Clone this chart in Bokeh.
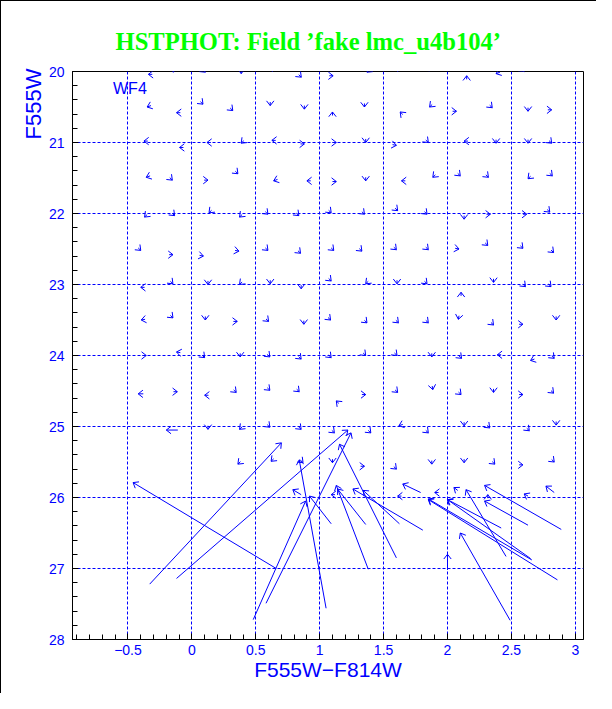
import numpy as np
from bokeh.plotting import figure
from bokeh.models import Range1d, FixedTicker, Title
from bokeh.core.properties import value
from bokeh.embed import file_html
from bokeh.resources import INLINE

TITLE = "HSTPHOT: Field \u2019fake lmc_u4b104\u2019"
X_LABEL = "F555W\u2212F814W"
Y_LABEL = "F555W"
CHIP = "WF4"

X_TICKS = [-0.5, 0, 0.5, 1, 1.5, 2, 2.5, 3]
X_TICK_LABELS = ["\u22120.5", "0", "0.5", "1", "1.5", "2", "2.5", "3"]
Y_TICKS = [20, 21, 22, 23, 24, 25, 26, 27, 28]
Y_GRID = [20, 21, 22, 23, 24, 25, 26, 27]

# small vectors (tail -> head), row by row (F555W = 20.0 ... 26.0)
small_x0 = [
    -0.31, -0.145, 0.085, 0.386, 0.63, 0.836, 1.075, 1.39, 1.61, 1.84, 2.15, 2.41, 2.58,
    -0.32, -0.09, 0.067, 0.30, 0.613, 0.88, 1.10, 1.35, 1.65, 1.88, 2.04, 2.33, 2.63, 2.785,
    -0.345, -0.066, 0.148, 0.406, 0.656, 0.85, 1.10, 1.36, 1.57, 1.83, 2.16, 2.38, 2.63, 2.795,
    -0.327, -0.173, 0.096, 0.34, 0.67, 0.93, 1.10, 1.36, 1.67, 1.905, 2.08, 2.30, 2.65, 2.80,
    -0.35, -0.155, 0.154, 0.393, 0.575, 0.817, 1.07, 1.33, 1.59, 1.82, 2.13, 2.305, 2.59, 2.78,
    -0.42, -0.178, 0.06, 0.338, 0.575, 0.83, 1.09, 1.31, 1.58, 1.83, 2.06, 2.295, 2.57, 2.81,
    -0.37, -0.168, 0.126, 0.393, 0.613, 0.855, 1.07, 1.38, 1.605, 1.82, 2.106, 2.36, 2.59, 2.79,
    -0.366, -0.168, 0.105, 0.325, 0.58, 0.876, 1.065, 1.35, 1.596, 1.83, 2.09, 2.34, 2.56, 2.85,
    -0.387, -0.09, 0.08, 0.378, 0.59, 0.835, 1.07, 1.34, 1.585, 1.877, 2.09, 2.42, 2.68, 2.815,
    -0.38, -0.144, 0.13, 0.327, 0.59, 0.82, 1.15, 1.33, 1.59, 1.88, 2.086, 2.36, 2.56, 2.81,
    -0.11, 0.126, 0.393, 0.59, 0.835, 1.095, 1.38, 1.65, 1.83, 2.13, 2.31, 2.62, 2.85,
    0.38, 0.64, 0.85, 1.10, 1.32, 1.58, 1.877, 2.13, 2.35, 2.56, 2.815,
    0.855, 1.12, 1.64, 1.79, 1.93, 2.08, 2.315, 2.63, 2.835,
]
small_y0 = [
    20.04, 19.97, 19.975, 19.98, 19.96, 20.045, 20.06, 19.975, 19.96, 19.955, 20.11, 20.01, 19.965,
    20.48, 20.58, 20.425, 20.515, 20.43, 20.48, 20.62, 20.45, 20.605, 20.465, 20.56, 20.475, 20.51, 20.54,
    20.98, 21.07, 21.0, 20.975, 20.97, 21.02, 21.0, 20.95, 21.03, 20.965, 20.98, 20.96, 20.96, 20.975,
    21.47, 21.495, 21.53, 21.405, 21.52, 21.54, 21.55, 21.49, 21.54, 21.455, 21.435, 21.455, 21.475, 21.435,
    22.015, 21.995, 21.955, 22.015, 21.975, 21.995, 21.955, 21.975, 21.925, 21.975, 22.03, 22.01, 22.01, 21.945,
    22.485, 22.58, 22.59, 22.52, 22.485, 22.525, 22.485, 22.495, 22.475, 22.475, 22.49, 22.415, 22.455, 22.515,
    23.04, 22.955, 22.95, 22.965, 22.94, 23.01, 22.915, 22.955, 22.94, 22.955, 23.16, 22.92, 22.995, 22.995,
    23.49, 23.435, 23.45, 23.52, 23.485, 23.51, 23.465, 23.505, 23.505, 23.505, 23.44, 23.535, 23.56, 23.45,
    24.0, 23.96, 23.995, 23.97, 23.985, 24.015, 23.995, 23.965, 23.965, 23.97, 24.005, 23.99, 24.05, 24.005,
    24.54, 24.51, 24.56, 24.485, 24.455, 24.475, 24.675, 24.55, 24.485, 24.43, 24.515, 24.47, 24.55, 24.495,
    25.05, 24.99, 25.005, 24.975, 25.005, 25.055, 25.055, 24.97, 25.055, 24.94, 24.985, 25.025, 24.93,
    25.495, 25.455, 25.475, 25.46, 25.56, 25.565, 25.48, 25.46, 25.495, 25.54, 25.465,
    25.96, 25.96, 25.98, 25.93, 25.93, 25.90, 26.01, 25.98, 25.93,
]
small_x1 = [
    -0.34, -0.145, 0.105, 0.386, 0.63, 0.856, 1.105, 1.37, 1.61, 1.86, 2.15, 2.38, 2.60,
    -0.35, -0.12, 0.087, 0.32, 0.613, 0.88, 1.10, 1.35, 1.63, 1.86, 2.07, 2.35, 2.63, 2.815,
    -0.375, -0.096, 0.118, 0.386, 0.626, 0.88, 1.13, 1.36, 1.60, 1.85, 2.13, 2.38, 2.63, 2.815,
    -0.357, -0.153, 0.126, 0.36, 0.64, 0.90, 1.13, 1.36, 1.64, 1.885, 2.10, 2.32, 2.63, 2.82,
    -0.37, -0.135, 0.134, 0.373, 0.595, 0.837, 1.09, 1.35, 1.61, 1.84, 2.13, 2.335, 2.62, 2.80,
    -0.40, -0.148, 0.09, 0.368, 0.595, 0.85, 1.11, 1.33, 1.60, 1.85, 2.09, 2.315, 2.59, 2.83,
    -0.40, -0.148, 0.126, 0.373, 0.613, 0.855, 1.09, 1.36, 1.605, 1.84, 2.106, 2.36, 2.61, 2.81,
    -0.396, -0.148, 0.105, 0.355, 0.60, 0.876, 1.085, 1.37, 1.616, 1.85, 2.085, 2.36, 2.59, 2.85,
    -0.357, -0.12, 0.10, 0.378, 0.61, 0.855, 1.09, 1.36, 1.605, 1.877, 2.11, 2.39, 2.65, 2.835,
    -0.42, -0.114, 0.10, 0.347, 0.61, 0.84, 1.13, 1.36, 1.61, 1.885, 2.106, 2.36, 2.59, 2.83,
    -0.20, 0.126, 0.373, 0.61, 0.855, 1.115, 1.40, 1.62, 1.85, 2.13, 2.33, 2.64, 2.85,
    0.36, 0.62, 0.87, 1.10, 1.35, 1.60, 1.877, 2.13, 2.37, 2.59, 2.835,
    0.79, 1.09, 1.61, 1.65, 1.90, 2.05, 2.315, 2.60, 2.77,
]
small_y1 = [
    20.04, 20.01, 20.01, 20.03, 20.0, 20.08, 20.06, 20.01, 20.0, 19.99, 20.06, 20.03, 20.0,
    20.50, 20.58, 20.46, 20.55, 20.48, 20.53, 20.57, 20.50, 20.57, 20.50, 20.56, 20.51, 20.56, 20.54,
    20.98, 21.07, 21.0, 21.01, 20.97, 21.02, 21.0, 21.0, 21.04, 21.0, 20.98, 21.01, 21.01, 21.01,
    21.49, 21.53, 21.53, 21.44, 21.54, 21.54, 21.55, 21.54, 21.54, 21.49, 21.47, 21.49, 21.51, 21.47,
    22.05, 22.03, 21.99, 22.05, 22.01, 22.03, 21.99, 22.01, 21.96, 22.01, 22.08, 22.01, 22.01, 21.98,
    22.52, 22.58, 22.60, 22.53, 22.52, 22.56, 22.52, 22.53, 22.51, 22.51, 22.50, 22.45, 22.49, 22.55,
    23.04, 22.99, 23.0, 23.0, 22.99, 23.06, 22.95, 22.99, 22.99, 22.99, 23.11, 22.97, 23.03, 23.03,
    23.50, 23.47, 23.50, 23.52, 23.52, 23.56, 23.50, 23.54, 23.54, 23.54, 23.49, 23.57, 23.56, 23.50,
    24.0, 23.95, 24.03, 24.02, 24.02, 24.05, 24.03, 24.0, 24.0, 24.02, 24.04, 23.99, 24.07, 24.04,
    24.54, 24.51, 24.56, 24.52, 24.49, 24.51, 24.64, 24.55, 24.52, 24.48, 24.55, 24.52, 24.55, 24.53,
    25.05, 25.04, 25.04, 25.01, 25.04, 25.09, 25.09, 24.99, 25.09, 24.99, 25.02, 25.06, 24.98,
    25.53, 25.49, 25.51, 25.51, 25.56, 25.60, 25.53, 25.51, 25.53, 25.54, 25.50,
    25.89, 25.96, 25.98, 25.81, 25.93, 25.86, 25.96, 25.95, 25.84,
]

# large vectors (faint input -> recovered)
big_x0 = [0.66, -0.33, -0.12, 0.48, 0.58, 1.05, 1.09, 1.60, 1.38, 1.36, 1.807, 1.624,
          2.458, 2.89, 2.63, 2.42, 2.65, 2.66, 2.86, 2.49, 2.0]
big_y0 = [27.00, 27.22, 27.14, 27.72, 27.49, 27.56, 26.37, 26.85, 27.01, 26.38, 26.46, 26.37,
          26.83, 26.45, 26.39, 26.43, 26.86, 26.88, 27.16, 27.73, 27.02]
big_x1 = [-0.46, 0.70, 1.22, 0.89, 1.245, 0.84, 0.92, 1.155, 1.13, 1.14, 1.26, 1.34,
          2.145, 2.29, 2.29, 2.0, 2.0, 1.85, 1.85, 2.10, 2.0]
big_y1 = [25.79, 25.23, 25.05, 26.05, 25.09, 25.47, 25.98, 25.25, 25.83, 25.88, 25.88, 25.90,
          25.89, 25.83, 26.05, 26.03, 26.03, 26.02, 26.03, 26.50, 26.80]

BLUE = "#0000ff"
W, H = 596, 693
BL, BR, BT, BB = 71, 14, 70, 55
X0, X1 = -0.934, 3.064
Y_TOP, Y_BOT = 20, 28

p = figure(width=W, height=H, x_range=Range1d(X0, X1), y_range=Range1d(Y_BOT, Y_TOP),
           output_backend="svg", toolbar_location=None,
           min_border_left=BL, min_border_right=BR, min_border_top=BT, min_border_bottom=BB)
p.styles = {"border-top": "1px solid black", "border-left": "1px solid black"}
p.background_fill_color = "white"
p.border_fill_color = "white"
p.outline_line_color = "black"
p.outline_line_width = 1

p.title.text = TITLE
p.title.align = "left"
p.title.offset = 43
p.title.standoff = 33
p.title.text_font = "Liberation Serif"
p.title.text_font_style = "bold"
p.title.text_font_size = "24.6px"
p.title.text_color = "#00ff00"

p.add_layout(Title(text=Y_LABEL, align="right", text_font="Liberation Sans",
                   text_font_style="normal", text_font_size="22px", text_color=BLUE,
                   standoff=0, offset=-3), "left")

x_minor = list(np.round(np.arange(-0.9, 3.001, 0.1), 1))
y_minor = list(np.round(np.arange(20, 28.001, 0.2), 1))

for ax in (p.xaxis[0], p.yaxis[0]):
    ax.axis_line_color = "black"
    ax.major_tick_line_color = "black"
    ax.minor_tick_line_color = "black"
    ax.major_tick_in = 6
    ax.major_tick_out = 0
    ax.minor_tick_in = 5
    ax.minor_tick_out = 0
    ax.major_label_text_color = BLUE
    ax.major_label_text_font = "Liberation Sans"
    ax.major_label_text_font_size = "14px"

p.xaxis.ticker = FixedTicker(ticks=X_TICKS, minor_ticks=x_minor)
p.xaxis.major_label_overrides = dict(zip(X_TICKS, X_TICK_LABELS))
p.xaxis.major_label_standoff = 5
p.xaxis.axis_label = X_LABEL
p.xaxis.axis_label_text_font = "Liberation Sans"
p.xaxis.axis_label_text_font_style = "normal"
p.xaxis.axis_label_text_font_size = "21px"
p.xaxis.axis_label_text_color = BLUE
p.xaxis.axis_label_standoff = 0

p.yaxis.ticker = FixedTicker(ticks=Y_TICKS, minor_ticks=y_minor)
p.yaxis.major_label_standoff = 8

p.xgrid.ticker = FixedTicker(ticks=X_TICKS)
p.ygrid.ticker = FixedTicker(ticks=Y_GRID)
for g in (p.xgrid[0], p.ygrid[0]):
    g.grid_line_color = BLUE
    g.grid_line_dash = "3 2"
    g.grid_line_width = 1
    g.grid_line_alpha = 1.0

xs = np.array(small_x0 + big_x0)
ys = np.array(small_y0 + big_y0)
xe = np.array(small_x1 + big_x1)
ye = np.array(small_y1 + big_y1)

# pixel scale of the frame, to orient the arrow barbs in screen space
sx = (W - BL - BR) / (X1 - X0)
sy = (H - BT - BB) / (Y_BOT - Y_TOP)
back = np.arctan2((ye - ys) * sy, -(xe - xs) * sx)
half = np.radians(38)

p.segment(x0=xs, y0=ys, x1=xe, y1=ye, line_color=BLUE, line_width=1)
for a in (back + half, back - half):
    p.ray(x=xe, y=ye, length=6, length_units="screen", angle=a, angle_units="rad",
          line_color=BLUE, line_width=1)

p.text(x=[-0.617], y=[20.233], text=[CHIP], text_font=value("Liberation Sans"),
       text_font_size="16px", text_color=BLUE, text_baseline="middle", text_align="left")

open("out.html", "w").write(file_html(p, INLINE))
